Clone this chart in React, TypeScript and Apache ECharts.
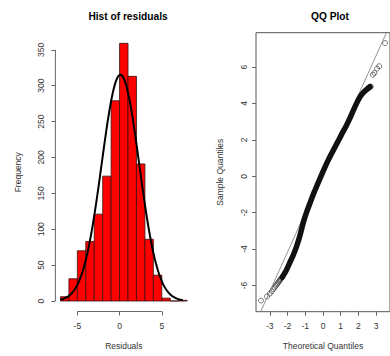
import React, { useEffect, useRef } from "react";
import * as echarts from "echarts";

// Histogram of residuals: bins of width 1 starting at these edges
const binStarts = [-7, -6, -5, -4, -3, -2, -1, 0, 1, 2, 3, 4, 5, 6, 7];
const binCounts = [6, 31, 70, 83, 121, 174, 279, 359, 313, 191, 86, 36, 4, 0, 1];
const binWidth = 1;

// Fitted normal density overlaid on the histogram
const fitMean = 0.1;
const fitSd = 2.22;

const histXTicks = [-5, 0, 5];
const histYTicks = [0, 50, 100, 150, 200, 250, 300, 350];

// QQ plot: dense body of the points (theoretical, sample)
const qqBodyTheoretical = [-2.3, -2.1, -1.9, -1.7, -1.5, -1.3, -1.1, -0.9, -0.7, -0.5, -0.3, -0.1, 0.1, 0.3, 0.5, 0.7, 0.9, 1.1, 1.3, 1.5, 1.7, 1.9, 2.1, 2.3, 2.5, 2.65];
const qqBodySample = [-5.55, -5.22, -4.8, -4.38, -3.88, -3.25, -2.5, -1.9, -1.38, -0.88, -0.42, 0.04, 0.48, 0.9, 1.28, 1.65, 2.02, 2.4, 2.75, 3.15, 3.6, 4.02, 4.38, 4.62, 4.8, 4.92];

// QQ plot: separated tail points
const qqTailTheoretical = [-3.5, -3.16, -3.0, -2.89, -2.8, -2.73, -2.67, -2.61, -2.56, -2.51, -2.47, -2.43, -2.39, -2.35, 2.52, 2.58, 2.64, 2.7, 2.82, 2.9, 3.05, 3.17, 3.5];
const qqTailSample = [-6.83, -6.6, -6.45, -6.32, -6.2, -6.1, -6.02, -5.95, -5.88, -5.82, -5.76, -5.7, -5.66, -5.6, 4.82, 4.86, 4.9, 4.93, 5.58, 5.68, 5.92, 6.05, 7.32];

// Reference line through the quartiles
const qqLineIntercept = 0.16;
const qqLineSlope = 2.16;

const qqXTicks = [-3, -2, -1, 0, 1, 2, 3];
const qqYTicks = [-6, -4, -2, 0, 2, 4, 6];

const FONT = "Liberation Sans, Arial, sans-serif";
const AXIS_COLOR = "#666";
const TEXT_COLOR = "#333";

export default function App() {
  const ref = useRef<HTMLDivElement>(null);

  useEffect(() => {
    if (!ref.current) return;
    const chart = echarts.init(ref.current, null, { renderer: "svg" });

    const histXMin = -7.6, histXMax = 8.6;
    const histYMin = -14.6, histYMax = 373.4;
    const qqXMin = -3.78, qqXMax = 3.78;
    const qqYMin = -7.44, qqYMax = 7.89;

    const total = binCounts.reduce((a, b) => a + b, 0);
    const curve: number[][] = [];
    for (let i = 0; i <= 145; i++) {
      const x = -7 + i * 0.1;
      const z = (x - fitMean) / fitSd;
      curve.push([x, (total * binWidth * Math.exp(-0.5 * z * z)) / (fitSd * Math.sqrt(2 * Math.PI))]);
    }

    const bars = binStarts.map((s, i) => [s, s + binWidth, binCounts[i]]);

    const tickLabel = {
      fontFamily: FONT,
      fontSize: 8.5,
      color: TEXT_COLOR,
    };
    const hiddenLine = { show: false, onZero: false };

    const option: any = {
      animation: false,
      textStyle: { fontFamily: FONT },
      title: [
        {
          text: "Hist of residuals",
          left: 123,
          top: 6,
          textAlign: "center",
          textStyle: { fontFamily: FONT, fontSize: 10.2, fontWeight: "bold", color: "#000" },
        },
        {
          text: "QQ Plot",
          left: 325,
          top: 6,
          textAlign: "center",
          textStyle: { fontFamily: FONT, fontSize: 10.2, fontWeight: "bold", color: "#000" },
        },
      ],
      grid: [
        { left: 55.4, top: 33, width: 136.8, height: 278.5 },
        { left: 256, top: 32.7, width: 137, height: 279, show: true, borderColor: "#555", borderWidth: 1 },
      ],
      xAxis: [
        {
          type: "value",
          gridIndex: 0,
          min: histXMin,
          max: histXMax,
          axisLine: hiddenLine,
          splitLine: { show: false },
          axisTick: { show: true, customValues: histXTicks, length: 4, lineStyle: { color: AXIS_COLOR } },
          axisLabel: { ...tickLabel, customValues: histXTicks, margin: 10 },
          name: "Residuals",
          nameLocation: "middle",
          nameGap: 30,
          nameTextStyle: { fontFamily: FONT, fontSize: 8.5, color: TEXT_COLOR },
        },
        {
          type: "value",
          gridIndex: 1,
          min: qqXMin,
          max: qqXMax,
          axisLine: hiddenLine,
          splitLine: { show: false },
          axisTick: { show: true, customValues: qqXTicks, length: 4, lineStyle: { color: AXIS_COLOR } },
          axisLabel: { ...tickLabel, customValues: qqXTicks, margin: 10 },
          name: "Theoretical Quantiles",
          nameLocation: "middle",
          nameGap: 30,
          nameTextStyle: { fontFamily: FONT, fontSize: 8.5, color: TEXT_COLOR },
        },
      ],
      yAxis: [
        {
          type: "value",
          gridIndex: 0,
          min: histYMin,
          max: histYMax,
          axisLine: hiddenLine,
          splitLine: { show: false },
          axisTick: { show: true, customValues: histYTicks, length: 4, lineStyle: { color: AXIS_COLOR } },
          axisLabel: { ...tickLabel, customValues: histYTicks, rotate: 90, margin: 10 },
          name: "Frequency",
          nameLocation: "middle",
          nameGap: 33,
          nameRotate: 90,
          nameTextStyle: { fontFamily: FONT, fontSize: 8.5, color: TEXT_COLOR },
        },
        {
          type: "value",
          gridIndex: 1,
          min: qqYMin,
          max: qqYMax,
          axisLine: hiddenLine,
          splitLine: { show: false },
          axisTick: { show: true, customValues: qqYTicks, length: 4, lineStyle: { color: AXIS_COLOR } },
          axisLabel: { ...tickLabel, customValues: qqYTicks, rotate: 90, margin: 8 },
          name: "Sample Quantiles",
          nameLocation: "middle",
          nameGap: 32,
          nameRotate: 90,
          nameTextStyle: { fontFamily: FONT, fontSize: 8.5, color: TEXT_COLOR },
        },
      ],
      series: [
        {
          type: "custom",
          xAxisIndex: 0,
          yAxisIndex: 0,
          data: bars,
          encode: { x: [0, 1], y: 2 },
          renderItem: (_params: any, api: any) => {
            const p0 = api.coord([api.value(0), api.value(2)]);
            const p1 = api.coord([api.value(1), 0]);
            return {
              type: "rect",
              shape: { x: p0[0], y: p0[1], width: p1[0] - p0[0], height: p1[1] - p0[1] },
              style: { fill: "#ff0000", stroke: "#3a1010", lineWidth: 0.8 },
            };
          },
        },
        {
          type: "line",
          xAxisIndex: 0,
          yAxisIndex: 0,
          data: curve,
          showSymbol: false,
          symbol: "none",
          lineStyle: { color: "#000", width: 2 },
        },
        // R-style axis lines spanning the tick range only
        {
          type: "line",
          xAxisIndex: 0,
          yAxisIndex: 0,
          clip: false,
          symbol: "none",
          data: [[histXTicks[0], histYMin], [histXTicks[histXTicks.length - 1], histYMin]],
          lineStyle: { color: AXIS_COLOR, width: 1 },
        },
        {
          type: "line",
          xAxisIndex: 0,
          yAxisIndex: 0,
          clip: false,
          symbol: "none",
          data: [[histXMin, histYTicks[0]], [histXMin, histYTicks[histYTicks.length - 1]]],
          lineStyle: { color: AXIS_COLOR, width: 1 },
        },
        // QQ reference line
        {
          type: "line",
          xAxisIndex: 1,
          yAxisIndex: 1,
          symbol: "none",
          data: [
            [qqXMin, qqLineIntercept + qqLineSlope * qqXMin],
            [qqXMax, qqLineIntercept + qqLineSlope * qqXMax],
          ],
          lineStyle: { color: "#777", width: 0.8 },
        },
        {
          type: "line",
          xAxisIndex: 1,
          yAxisIndex: 1,
          symbol: "none",
          smooth: 0.2,
          data: qqBodyTheoretical.map((t, i) => [t, qqBodySample[i]]),
          lineStyle: { color: "#111", width: 5.5, cap: "round", join: "round" },
        },
        {
          type: "scatter",
          xAxisIndex: 1,
          yAxisIndex: 1,
          symbol: "circle",
          symbolSize: 5,
          data: qqTailTheoretical.map((t, i) => [t, qqTailSample[i]]),
          itemStyle: { color: "rgba(0,0,0,0)", borderColor: "#333", borderWidth: 0.8 },
        },
      ],
    };

    chart.setOption(option);
    return () => chart.dispose();
  }, []);

  return (
    <div
      ref={ref}
      style={{ position: "fixed", left: 0, top: 0, width: 390, height: 356, background: "#fff" }}
    />
  );
}
